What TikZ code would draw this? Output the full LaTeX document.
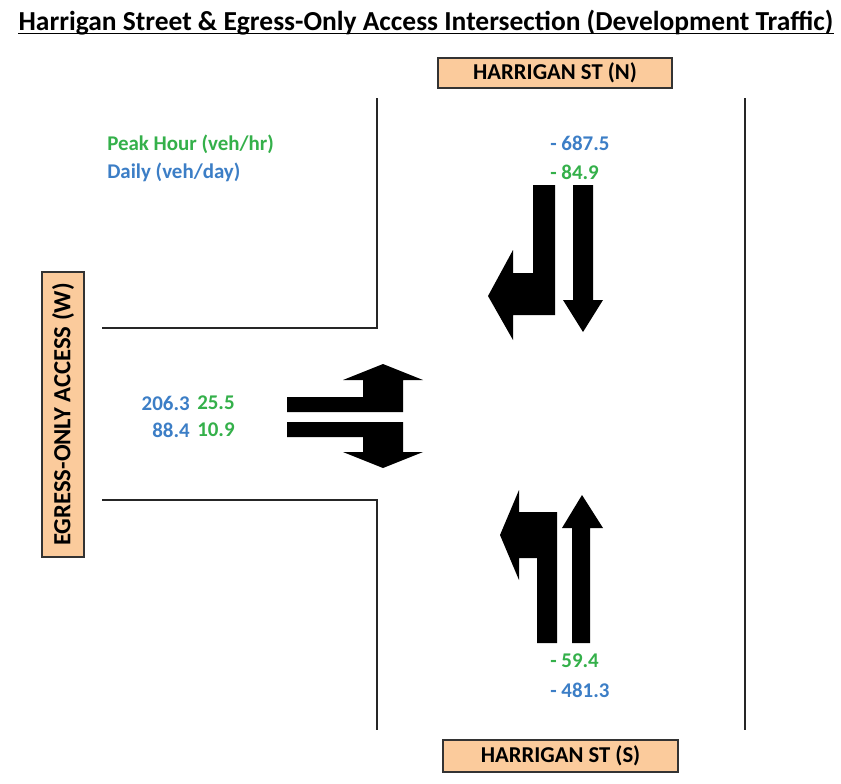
\documentclass[tikz,border=0pt]{standalone}
\usepackage{fontspec}
\setmainfont{Carlito}
\usetikzlibrary{positioning}
\definecolor{peach}{HTML}{FBCB9C}
\definecolor{flowblue}{HTML}{3C7EC6}
\definecolor{flowgreen}{HTML}{34B04A}

\begin{document}
\begin{tikzpicture}[x=0.75pt, y=-0.75pt,
  streetbox/.style={rectangle, draw=black!80, line width=0.9pt, fill=peach, font=\fontsize{17}{19}\selectfont\bfseries, inner sep=0pt},
  curb/.style={line width=0.9pt, black!85},
  movearrow/.style={fill=black, draw=none},
  vol/.style={font=\fontsize{15.7}{18}\selectfont\bfseries, inner sep=0pt}]

\useasboundingbox (0,0) rectangle (841,783);

% Title
\node[font=\fontsize{20.6}{23}\selectfont\bfseries, inner sep=0pt, anchor=base] (title) at (426,30) {Harrigan Street \& Egress-Only Access Intersection (Development Traffic)};
\draw[line width=1.3pt] ([yshift=-2.6pt]title.base west) -- ([yshift=-2.6pt]title.base east);

% Street name boxes
\node[streetbox, minimum width=175.5pt, minimum height=22.5pt] (northst) at (555,73) {HARRIGAN ST (N)};
\node[streetbox, minimum width=176.25pt, minimum height=24pt] (southst) at (560.5,756) {HARRIGAN ST (S)};
\node[streetbox, font=\fontsize{18.5}{20}\selectfont\bfseries, minimum width=213.75pt, minimum height=31.5pt, rotate=90] (westst) at (63,414.5) {EGRESS-ONLY ACCESS (W)};

% Curb lines
\draw[curb] (377,98) -- (377,328) -- (102,328);
\draw[curb] (102,500) -- (377,500) -- (377,730);
\draw[curb] (745,98) -- (745,730);

% Legend
\node[vol, text=flowgreen, anchor=west] (legpeak) at (107,144) {Peak Hour (veh/hr)};
\node[vol, text=flowblue, anchor=west] (legdaily) at (107,172) {Daily (veh/day)};

% Volumes
\node[vol, text=flowblue, anchor=west] (ndaily) at (550,143) {- 687.5};
\node[vol, text=flowgreen, anchor=west] (npeak) at (550,172) {- 84.9};
\node[vol, text=flowgreen, anchor=west] (speak) at (550,661) {- 59.4};
\node[vol, text=flowblue, anchor=west] (sdaily) at (550,690) {- 481.3};
\node[vol, text=flowblue, anchor=east] (wdailyl) at (190,403) {206.3};
\node[vol, text=flowgreen, anchor=west] (wpeakl) at (197,403) {25.5};
\node[vol, text=flowblue, anchor=east] (wdailyr) at (190,430) {88.4};
\node[vol, text=flowgreen, anchor=west] (wpeakr) at (197,430) {10.9};

% Southbound movements
\fill[movearrow] (533,185) -- (555,185) -- (555,315) -- (513,315) -- (513,340) -- (488,296) -- (513,250) -- (513,273) -- (533,273) -- cycle;
\fill[movearrow] (573,185) -- (593,185) -- (593,300) -- (603,300) -- (583,332) -- (563,300) -- (573,300) -- cycle;

% Northbound movements
\fill[movearrow] (537,643) -- (557,643) -- (557,512) -- (519,512) -- (519,490) -- (500,535) -- (519,580) -- (519,558) -- (537,558) -- cycle;
\fill[movearrow] (572,643) -- (590,643) -- (590,528) -- (603,528) -- (582,495) -- (562,528) -- (572,528) -- cycle;

% Westbound exit movements
\fill[movearrow] (287,397) -- (363,397) -- (363,380) -- (343,380) -- (383,364) -- (423,380) -- (403,380) -- (403,412) -- (287,412) -- cycle;
\fill[movearrow] (287,422) -- (403,422) -- (403,452) -- (423,452) -- (383,468) -- (343,452) -- (363,452) -- (363,437) -- (287,437) -- cycle;

\end{tikzpicture}
\end{document}
